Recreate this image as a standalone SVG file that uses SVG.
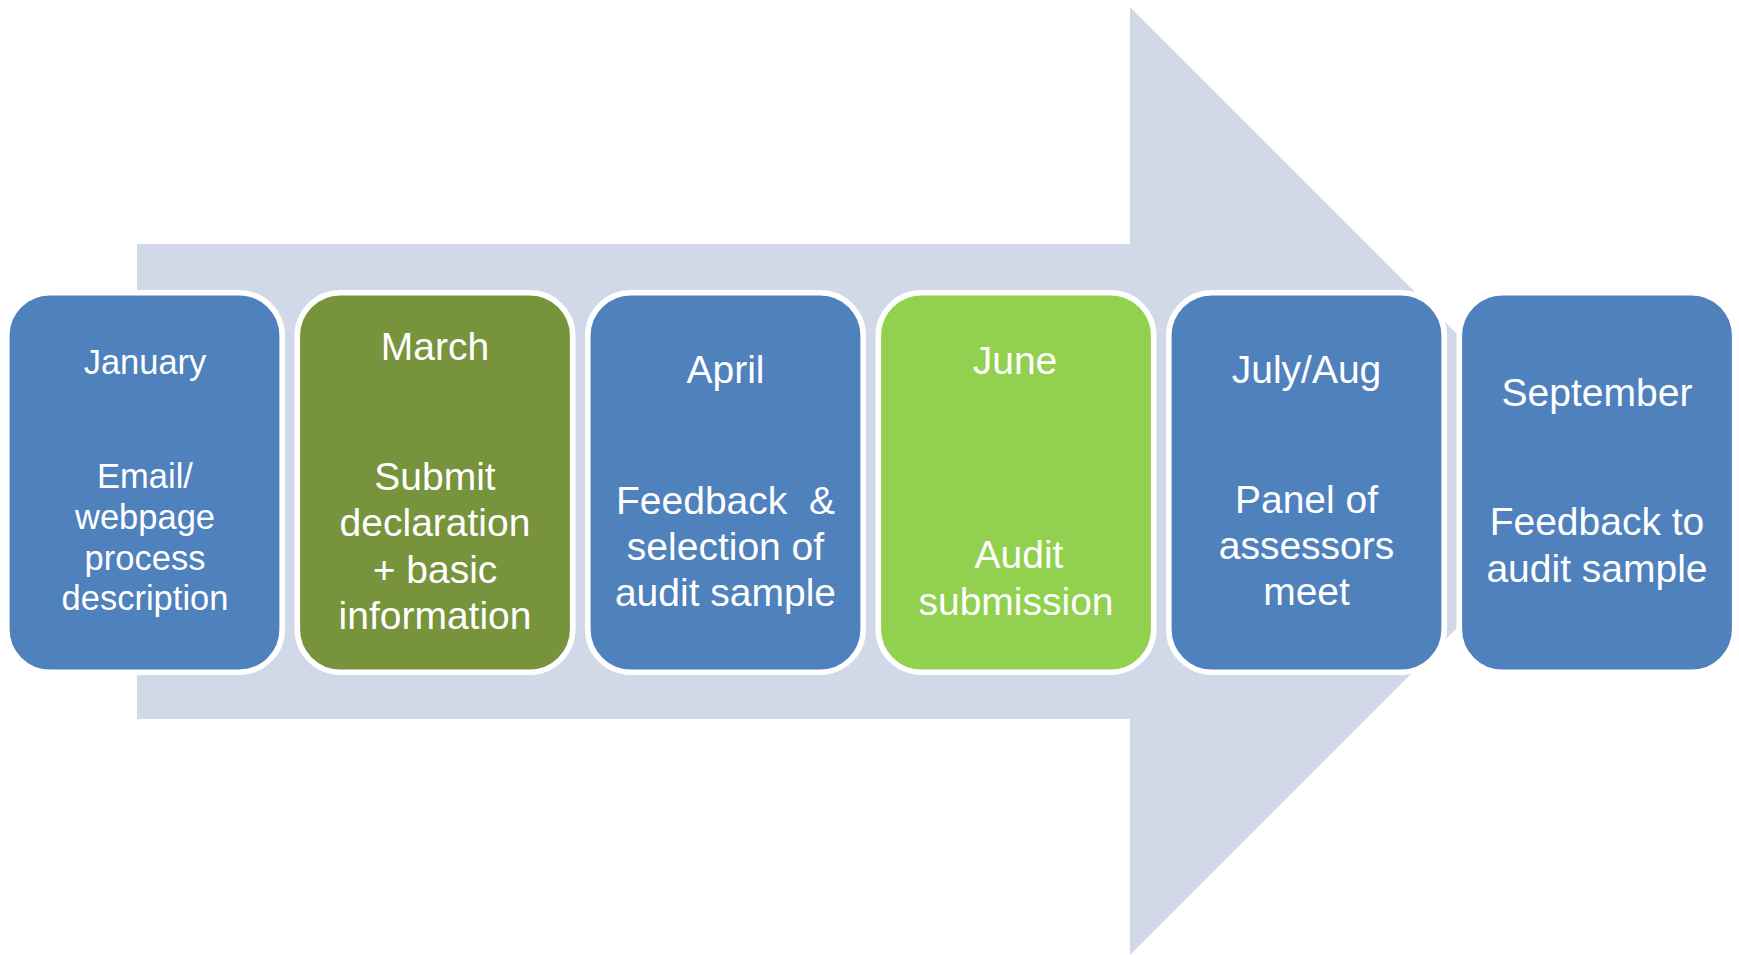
<svg xmlns="http://www.w3.org/2000/svg" width="1739" height="955" viewBox="0 0 1739 955">
<style>
.box{stroke:#FFFFFF;stroke-width:5.6}
.blue{fill:#4F81BD}
.dgreen{fill:#77933C}
.lgreen{fill:#92D050}
.t{font-family:"Liberation Sans",Arial,sans-serif;font-size:39px;fill:#FFFFFF;text-anchor:middle}
.s{font-size:34.5px}
</style>
<rect width="1739" height="955" fill="#FFFFFF"/>
<g id="arrow">
<polygon points="137,244 1130,244 1130,7 1604,481 1130,955 1130,719 137,719" fill="#D1D8E8"/>
</g>
<g id="connectors"/>
<g id="node-january">
<rect class="box blue" x="6.8" y="292.8" width="275.4" height="379.4" rx="43" ry="43"/>
<text class="t s" x="145" y="374">January</text>
<text class="t s" x="145" y="488">Email/</text>
<text class="t s" x="145" y="528.5">webpage</text>
<text class="t s" x="145" y="569.5">process</text>
<text class="t s" x="145" y="610">description</text>
</g>
<g id="node-march">
<rect class="box dgreen" x="297.3" y="292.8" width="275.4" height="379.4" rx="43" ry="43"/>
<text class="t" x="435" y="359.5">March</text>
<text class="t" x="435" y="489.5">Submit</text>
<text class="t" x="435" y="536">declaration</text>
<text class="t" x="435" y="582.5">+ basic</text>
<text class="t" x="435" y="629">information</text>
</g>
<g id="node-april">
<rect class="box blue" x="587.8" y="292.8" width="275.4" height="379.4" rx="43" ry="43"/>
<text class="t" x="725.5" y="382.5">April</text>
<text class="t" x="725.5" y="513.5" xml:space="preserve">Feedback  &amp;</text>
<text class="t" x="725.5" y="560">selection of</text>
<text class="t" x="725.5" y="606">audit sample</text>
</g>
<g id="node-june">
<rect class="box lgreen" x="878.3" y="292.8" width="275.4" height="379.4" rx="43" ry="43"/>
<text class="t" x="1015" y="373.5">June</text>
<text class="t" x="1019" y="567.5">Audit</text>
<text class="t" x="1016" y="615">submission</text>
</g>
<g id="node-julyaug">
<rect class="box blue" x="1168.8" y="292.8" width="275.4" height="379.4" rx="43" ry="43"/>
<text class="t" x="1306.5" y="382.5">July/Aug</text>
<text class="t" x="1306.5" y="513">Panel of</text>
<text class="t" x="1306.5" y="558.5">assessors</text>
<text class="t" x="1306.5" y="605">meet</text>
</g>
<g id="node-september">
<rect class="box blue" x="1459.3" y="292.8" width="275.4" height="379.4" rx="43" ry="43"/>
<text class="t" x="1597" y="405.5">September</text>
<text class="t" x="1597" y="535">Feedback to</text>
<text class="t" x="1597" y="582">audit sample</text>
</g>
</svg>
